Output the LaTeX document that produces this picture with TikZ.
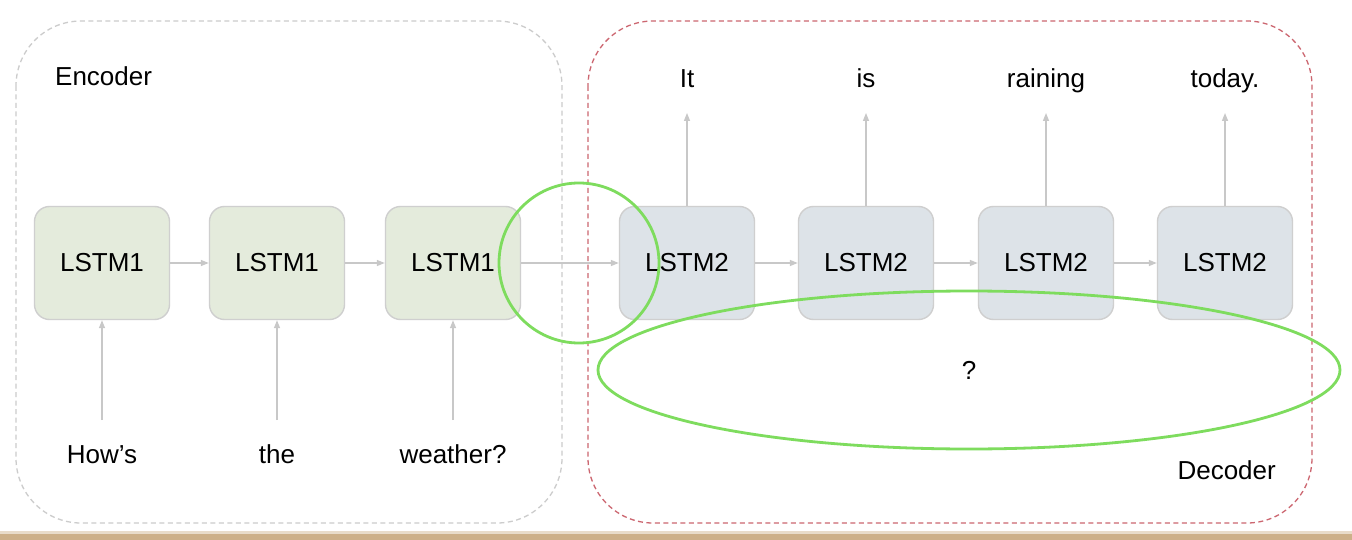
\documentclass[tikz,border=0pt]{standalone}
\usepackage{fontspec}
\setmainfont{Liberation Sans}
\usetikzlibrary{arrows.meta}
\definecolor{encfill}{HTML}{E4EBDC}
\definecolor{decfill}{HTML}{DDE3E8}
\definecolor{boxline}{HTML}{CFCFCF}
\definecolor{arr}{HTML}{C8C8C8}
\definecolor{redd}{HTML}{CC6670}
\definecolor{grayd}{HTML}{CCCCCC}
\definecolor{hl}{HTML}{7EDC5E}
\definecolor{tan}{HTML}{CDB089}
\begin{document}
\begin{tikzpicture}[x=1pt,y=-1pt,
  txt/.style={font=\fontsize{26}{30}\selectfont, text=black, inner sep=0pt},
  lbl/.style={txt, anchor=base},
  enc/.style={draw=boxline, line width=1.4pt, fill=encfill, rounded corners=15pt, minimum width=135pt, minimum height=113pt, txt},
  dec/.style={draw=boxline, line width=1.4pt, fill=decfill, rounded corners=15pt, minimum width=135pt, minimum height=113pt, txt},
  conn/.style={draw=arr, line width=1.3pt, -{Triangle[length=8pt,width=6pt]}},
  grp/.style={line width=1.3pt, dash pattern=on 5pt off 3.5pt, rounded corners=65pt},
  hlmark/.style={draw=hl, line width=2.8pt}
]
\useasboundingbox (0,0) rectangle (1352,540);
\fill[white] (0,0) rectangle (1352,540);
% bottom bar
\fill[tan!45] (0,531) rectangle (1352,534);
\fill[tan] (0,534) rectangle (1352,540);
% group boxes
\draw[grp, draw=grayd] (16,21) rectangle (562,523);
\draw[grp, draw=redd] (588,21) rectangle (1312,523);
\node[txt, anchor=base west] (enclab) at (55,86) {Encoder};
\node[txt, anchor=base east] (declab) at (1276,479) {Decoder};
% encoder
\node[enc] (e1) at (102,263) {LSTM1};
\node[enc] (e2) at (277,263) {LSTM1};
\node[enc] (e3) at (453,263) {LSTM1};
\node[lbl] (i1) at (102,463) {How’s};
\node[lbl] (i2) at (277,463) {the};
\node[lbl] (i3) at (453,463) {weather?};
\coordinate (i1t) at (102,420);
\coordinate (i2t) at (277,420);
\coordinate (i3t) at (453,420);
\draw[conn] (i1t) -- (e1.south);
\draw[conn] (i2t) -- (e2.south);
\draw[conn] (i3t) -- (e3.south);
% decoder
\node[dec] (d1) at (687,263) {LSTM2};
\node[dec] (d2) at (866,263) {LSTM2};
\node[dec] (d3) at (1046,263) {LSTM2};
\node[dec] (d4) at (1225,263) {LSTM2};
\node[lbl] (o1) at (687,88) {It};
\node[lbl] (o2) at (866,88) {is};
\node[lbl] (o3) at (1046,88) {raining};
\node[lbl] (o4) at (1225,88) {today.};
\coordinate (o1b) at (687,113);
\coordinate (o2b) at (866,113);
\coordinate (o3b) at (1046,113);
\coordinate (o4b) at (1225,113);
\draw[conn] (d1.north) -- (o1b);
\draw[conn] (d2.north) -- (o2b);
\draw[conn] (d3.north) -- (o3b);
\draw[conn] (d4.north) -- (o4b);
% chain
\draw[conn] (e1.east) -- (e2.west);
\draw[conn] (e2.east) -- (e3.west);
\draw[conn] (e3.east) -- (d1.west);
\draw[conn] (d1.east) -- (d2.west);
\draw[conn] (d2.east) -- (d3.west);
\draw[conn] (d3.east) -- (d4.west);
% highlights
\node[hlmark, circle, minimum size=160pt, inner sep=0pt] (c1) at (579,263) {};
\draw[hlmark] (969,370) ellipse [x radius=371pt, y radius=79pt];
\node[lbl] (q) at (969,379) {?};
\end{tikzpicture}
\end{document}
